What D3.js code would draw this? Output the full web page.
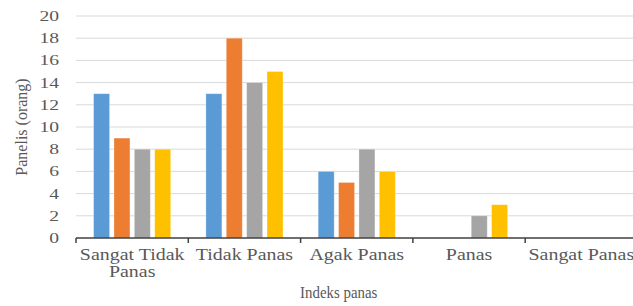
<!DOCTYPE html>
<html>
<head>
<meta charset="utf-8">
<script src="https://cdn.jsdelivr.net/npm/d3@7"></script>
<style>
  html, body { margin: 0; padding: 0; background: #ffffff; }
  svg { display: block; overflow: hidden; }
</style>
</head>
<body>
<svg id="chart" width="633" height="306"></svg>
<script>
// ---- data ----
const categories = ["Sangat Tidak Panas", "Tidak Panas", "Agak Panas", "Panas", "Sangat Panas"];
const seriesNames = ["Seri 1", "Seri 2", "Seri 3", "Seri 4"];
const series1 = [13, 13, 6, 0, 0];
const series2 = [9, 18, 5, 0, 0];
const series3 = [8, 14, 8, 2, 0];
const series4 = [8, 15, 6, 3, 0];
const yTicks = [0, 2, 4, 6, 8, 10, 12, 14, 16, 18, 20];
const yTitle = "Panelis (orang)";
const xTitle = "Indeks panas";
const colors = ["#5B9BD5", "#ED7D31", "#A5A5A5", "#FFC000"];

const allSeries = [series1, series2, series3, series4];

// ---- layout ----
const svg = d3.select("#chart");
const plotLeft = 76, plotRight = 637.5, plotTop = 16, plotBottom = 238;
const textColor = "#595959";
const fontFam = "'Liberation Serif', 'Times New Roman', serif";

const x0 = d3.scaleBand().domain(categories).range([plotLeft, plotRight]).padding(0);
const x1 = d3.scaleBand().domain(seriesNames)
  .range([17.6, x0.bandwidth() - 17.6]).paddingInner(0.216).paddingOuter(0);
const y = d3.scaleLinear().domain([0, 20]).range([plotBottom, plotTop]);

// gridlines
svg.append("g").selectAll("line")
  .data(yTicks.filter(d => d !== 0))
  .join("line")
  .attr("x1", plotLeft).attr("x2", 633)
  .attr("y1", d => y(d)).attr("y2", d => y(d))
  .attr("stroke", "#d9d9d9").attr("stroke-width", 1);

// bars
const groups = svg.append("g").selectAll("g")
  .data(categories)
  .join("g")
  .attr("transform", d => `translate(${x0(d)},0)`);

groups.selectAll("rect")
  .data((c, i) => allSeries.map((s, j) => ({ name: seriesNames[j], value: s[i], color: colors[j] })))
  .join("rect")
  .attr("x", d => x1(d.name))
  .attr("width", x1.bandwidth())
  .attr("y", d => y(d.value))
  .attr("height", d => y(0) - y(d.value))
  .attr("fill", d => d.color)
  .attr("stroke", "#ffffff")
  .attr("stroke-opacity", 0.35)
  .attr("stroke-width", 0.8);

// y axis (labels only)
const ySx = 1.4;
const yAxis = svg.append("g")
  .attr("transform", `translate(${plotLeft},0)`)
  .call(d3.axisLeft(y).tickValues(yTicks).tickSize(0).tickPadding(17));
yAxis.select(".domain").remove();
yAxis.selectAll("text")
  .attr("x", 0)
  .attr("transform", `translate(-17,0) scale(${ySx},1)`)
  .attr("fill", textColor)
  .style("font-family", fontFam)
  .style("font-size", "14px");

// x axis
const xAxisG = svg.append("g").attr("transform", `translate(0,${plotBottom})`);
xAxisG.append("line")
  .attr("x1", plotLeft).attr("x2", plotRight)
  .attr("y1", 0).attr("y2", 0)
  .attr("stroke", "#404040").attr("stroke-width", 1.5);
const boundaries = categories.map(c => x0(c)).concat([x0(categories[categories.length - 1]) + x0.bandwidth()]);
xAxisG.selectAll("line.tick")
  .data(boundaries)
  .join("line")
  .attr("class", "tick")
  .attr("x1", d => d).attr("x2", d => d)
  .attr("y1", 0).attr("y2", 5)
  .attr("stroke", "#404040").attr("stroke-width", 1.5);

// category labels with wrapping
const xSx = 1.2;
const catFont = 16.6;
const labels = xAxisG.selectAll("text.cat")
  .data(categories)
  .join("text")
  .attr("class", "cat")
  .attr("transform", d => `translate(${x0(d) + x0.bandwidth() / 2},22) scale(${xSx},1)`)
  .attr("text-anchor", "middle")
  .attr("fill", textColor)
  .style("font-family", fontFam)
  .style("font-size", catFont + "px");

labels.each(function(d) {
  const el = d3.select(this);
  const words = d.split(" ");
  const maxW = x0.bandwidth() / xSx;
  let line = [];
  let tspan = el.append("tspan").attr("x", 0).attr("dy", 0);
  words.forEach(w => {
    line.push(w);
    tspan.text(line.join(" "));
    if (tspan.node().getComputedTextLength() > maxW && line.length > 1) {
      line.pop();
      tspan.text(line.join(" "));
      line = [w];
      tspan = el.append("tspan").attr("x", 0).attr("dy", 17).text(w);
    }
  });
});

// axis titles
svg.append("text")
  .attr("transform", `translate(27,127) rotate(-90)`)
  .attr("text-anchor", "middle")
  .attr("fill", textColor)
  .style("font-family", fontFam)
  .style("font-size", "16px")
  .text(yTitle);

svg.append("text")
  .attr("transform", `translate(338.7,298) scale(0.93,1)`)
  .attr("text-anchor", "middle")
  .attr("fill", textColor)
  .style("font-family", fontFam)
  .style("font-size", "16px")
  .text(xTitle);
</script>
</body>
</html>
